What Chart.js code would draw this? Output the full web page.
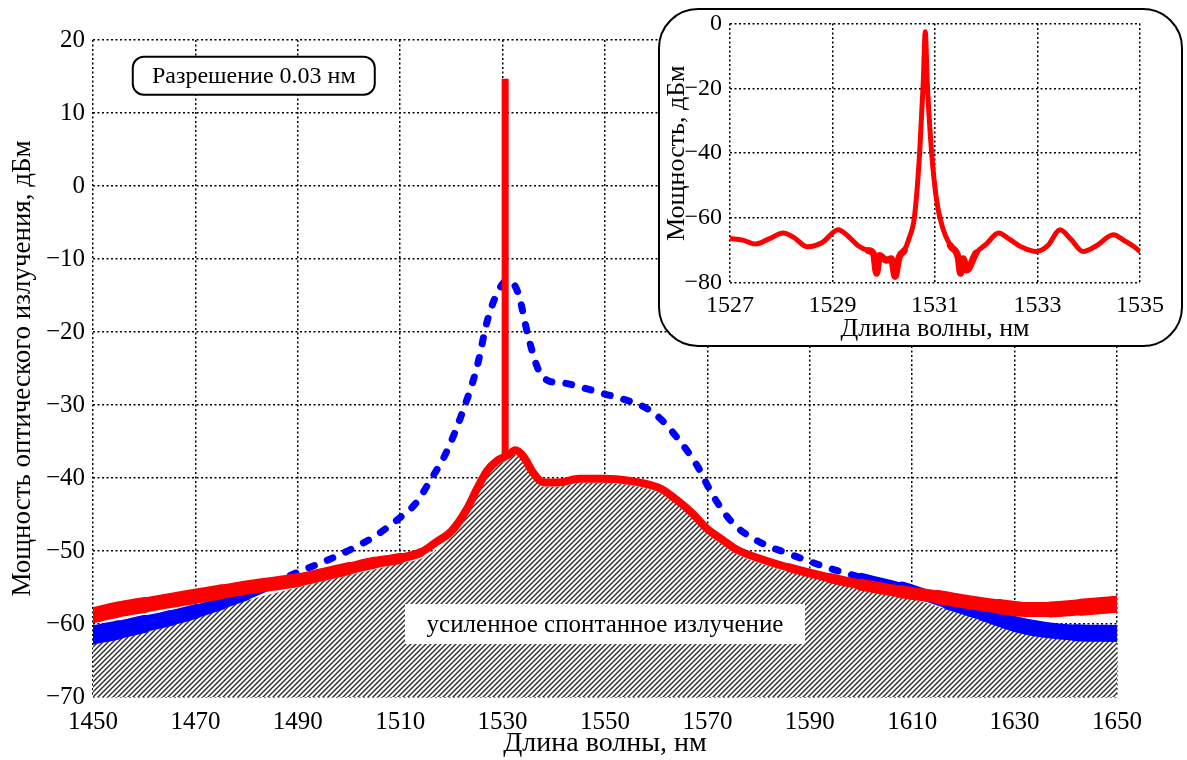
<!DOCTYPE html>
<html>
<head>
<meta charset="utf-8">
<title>Спектр излучения</title>
<script src="https://cdn.jsdelivr.net/npm/chart.js"></script>
<style>
  body { margin: 0; background: #fff; }
  #wrap { position: relative; width: 1187px; height: 760px; }
  #mainChart { display: block; }
  #inset { position: absolute; left: 658px; top: 8px; width: 525px; height: 339px;
           box-sizing: border-box; border: 2px solid #000; border-radius: 40px; background: #fff; }
  #insetChart { position: absolute; left: 0; top: -9px; display: block; }
</style>
</head>
<body>
<div id="wrap">
  <canvas id="mainChart" width="1187" height="760"></canvas>
  <div id="inset"><canvas id="insetChart" width="521" height="344"></canvas></div>
</div>
<script>
// --- данные основного графика ---
const xTicks = [1450, 1470, 1490, 1510, 1530, 1550, 1570, 1590, 1610, 1630, 1650];
const yTicks = [-70, -60, -50, -40, -30, -20, -10, 0, 10, 20];

// синяя штриховая кривая
const blueWl = [1450, 1455, 1460, 1465, 1470, 1475, 1480, 1485, 1490, 1495, 1500, 1505, 1510, 1513,
                1516, 1519, 1522, 1525, 1527, 1529, 1531, 1533, 1535, 1537, 1539, 1542, 1546, 1550,
                1554, 1558, 1561, 1564, 1568, 1571, 1575, 1580, 1586, 1594, 1600, 1608, 1617, 1624,
                1630, 1636, 1642, 1650];
const blueDb = [-61.5, -60.8, -60.0, -59.2, -58.3, -57.2, -56.0, -54.5, -52.9, -51.5, -49.9, -48.0, -45.4, -43.5,
                -40.2, -36.5, -31.3, -24.8, -18.5, -14.6, -12.9, -14.6, -20.6, -25.2, -26.7, -27.0, -27.7, -28.5,
                -29.3, -30.4, -32.0, -34.4, -38.3, -42.3, -46.2, -48.7, -50.4, -52.4, -53.6, -55.0, -57.1, -58.6,
                -60.0, -60.8, -61.2, -61.3];

// красная кривая (усиленное спонтанное излучение)
const redWl = [1450, 1455, 1460, 1465, 1470, 1475, 1480, 1485, 1490, 1495, 1500, 1505, 1510, 1514,
               1517, 1520, 1523, 1525, 1527, 1529, 1531, 1532.5, 1534, 1536, 1538, 1541, 1545, 1550,
               1555, 1558, 1561, 1564, 1567, 1570, 1573, 1576, 1580, 1586, 1594, 1600, 1608, 1615,
               1621, 1627, 1632, 1637, 1643, 1650];
const redDb = [-58.8, -58.0, -57.4, -56.8, -56.2, -55.6, -55.0, -54.5, -54.0, -53.2, -52.4, -51.6, -51.0, -50.2,
               -48.8, -47.3, -44.3, -41.5, -39.0, -37.6, -36.9, -36.2, -37.0, -39.3, -40.6, -40.6, -40.1, -40.1,
               -40.4, -40.8, -41.5, -43.0, -44.8, -47.0, -48.5, -49.9, -51.0, -52.3, -53.7, -54.6, -55.6, -56.3,
               -57.0, -57.6, -58.0, -58.0, -57.7, -57.3];

// линия генерации
const laserWl = [1530.5, 1530.5];
const laserDb = [-37.0, 14.7];

// заштрихованная область
const hatchWl = [1450, 1460, 1470, 1480, 1490, 1500, 1510, 1515, 1520, 1523, 1525, 1527, 1529, 1531,
                 1532.5, 1534, 1536, 1538, 1541, 1545, 1550, 1555, 1558, 1561, 1564, 1567, 1570, 1573,
                 1576, 1580, 1586, 1594, 1600, 1608, 1615, 1621, 1627, 1632, 1637, 1643, 1650];
const hatchDb = [-62.8, -61.2, -59.1, -56.8, -55.0, -53.3, -51.7, -50.8, -47.9, -44.9, -42.1, -39.6, -38.2, -37.5,
                 -36.8, -37.6, -39.9, -41.2, -41.2, -40.7, -40.7, -41.0, -41.4, -42.1, -43.6, -45.4, -47.6, -49.1,
                 -50.5, -51.6, -52.9, -54.3, -55.2, -56.2, -57.6, -58.9, -60.3, -61.2, -61.8, -62.2, -62.3];

// --- данные вставки ---
const insetXTicks = [1527, 1529, 1531, 1533, 1535];
const insetYTicks = [-80, -60, -40, -20, 0];
const insetWl = [1527.0, 1527.25, 1527.5, 1527.75, 1528.04, 1528.25, 1528.5, 1528.8, 1529.11, 1529.3, 1529.5,
                 1529.7, 1529.8, 1529.86, 1529.92, 1530.05, 1530.15, 1530.22, 1530.3, 1530.4, 1530.5, 1530.6,
                 1530.7, 1530.77, 1530.81, 1530.85, 1530.93, 1531.03, 1531.15, 1531.3, 1531.45, 1531.5, 1531.55,
                 1531.62, 1531.8, 1532.0, 1532.24, 1532.45, 1532.7, 1532.98, 1533.2, 1533.44, 1533.65, 1533.89,
                 1534.15, 1534.48, 1534.7, 1534.9, 1535.0];
const insetDb = [-66.3, -66.8, -68.0, -66.5, -64.6, -66.0, -68.8, -67.5, -63.6, -65.5, -68.5,
                 -70.0, -71.0, -77.0, -71.5, -73.0, -72.5, -78.0, -72.0, -70.0, -66.0, -59.5,
                 -40.0, -18.5, -2.6, -18.5, -39.0, -54.4, -63.0, -68.5, -72.0, -77.0, -72.5,
                 -76.0, -70.8, -68.0, -64.6, -66.5, -69.0, -70.3, -68.5, -63.6, -66.5, -70.3,
                 -68.5, -65.1, -67.0, -69.0, -70.3];

const resolutionText = 'Разрешение 0.03 нм';
const aseText = 'усиленное спонтанное излучение';

Chart.defaults.font.family = '"Liberation Serif", "Times New Roman", serif';
Chart.defaults.color = '#000';

const pts = (xs, ys) => xs.map((x, i) => ({x: x, y: ys[i]}));
const minus = v => (v < 0 ? '\u2212' + Math.abs(v) : String(v));

// штриховка
const tile = document.createElement('canvas');
tile.width = 5; tile.height = 5;
const t = tile.getContext('2d');
t.fillStyle = '#fff'; t.fillRect(0, 0, 5, 5);
t.strokeStyle = '#2a2a2a'; t.lineWidth = 1.4;
t.beginPath();
t.moveTo(0, 5); t.lineTo(5, 0);
t.moveTo(-1, 1); t.lineTo(1, -1);
t.moveTo(4, 6); t.lineTo(6, 4);
t.stroke();
const hatch = document.getElementById('mainChart').getContext('2d').createPattern(tile, 'repeat');

function gridScale(min, max, ticks, fit, titleText, titleSize, titlePad, tickSize, tickPad) {
    return {
        type: 'linear', min: min, max: max,
        afterBuildTicks: s => { s.ticks = ticks.map(v => ({value: v})); },
        afterFit: fit,
        ticks: { font: {size: tickSize}, padding: tickPad, callback: minus, autoSkip: false, maxRotation: 0 },
        grid: { color: '#000', lineWidth: 1.5, drawTicks: false },
        border: { display: false, dash: [2, 2.5] },
        title: { display: true, text: titleText, font: {size: titleSize}, padding: {top: titlePad, bottom: 0} }
    };
}

// подписи в рамках
const labelsPlugin = {
    id: 'labels',
    afterDatasetsDraw(chart) {
        const {ctx, scales: {x, y}} = chart;
        ctx.save();
        ctx.textAlign = 'center';
        ctx.textBaseline = 'middle';

        let cx = x.getPixelForValue(1481.4), cy = y.getPixelForValue(15.1);
        ctx.beginPath();
        ctx.roundRect(cx - 121, cy - 19, 242, 38, 11);
        ctx.fillStyle = '#fff'; ctx.fill();
        ctx.lineWidth = 2; ctx.strokeStyle = '#000'; ctx.stroke();
        ctx.fillStyle = '#000';
        ctx.font = '24px "Liberation Serif"';
        ctx.fillText(resolutionText, cx, cy + 1);

        cx = x.getPixelForValue(1550); cy = y.getPixelForValue(-60);
        ctx.fillStyle = '#fff';
        ctx.fillRect(cx - 200, cy - 20, 400, 40);
        ctx.fillStyle = '#000';
        ctx.font = '25px "Liberation Serif"';
        ctx.fillText(aseText, cx, cy + 1);
        ctx.restore();
    }
};

// толщина линии (шумовая полоса) по длине волны
function ramp(stops, x) {
    if (x <= stops[0][0]) return stops[0][1];
    for (let i = 1; i < stops.length; i++) {
        if (x <= stops[i][0]) {
            const [x0, w0] = stops[i - 1], [x1, w1] = stops[i];
            return w0 + (w1 - w0) * (x - x0) / (x1 - x0);
        }
    }
    return stops[stops.length - 1][1];
}
const redStops = [[1450, 16], [1500, 13], [1515, 8], [1585, 8], [1610, 13], [1650, 17]];
const blueStops = [[1450, 20], [1470, 14], [1487, 8], [1600, 8], [1615, 13], [1650, 18]];
const midX = c => (c.p0.parsed.x + c.p1.parsed.x) / 2;
const blueDashed = x => x >= 1487 && x < 1600;

new Chart(document.getElementById('mainChart'), {
    type: 'scatter',
    data: {
        datasets: [
            { data: pts(laserWl, laserDb), showLine: true, borderColor: '#ff0000', borderWidth: 7,
              pointRadius: 0, order: 0 },
            { data: pts(redWl, redDb), showLine: true, borderColor: '#ff0000', borderWidth: 7,
              borderCapStyle: 'round', borderJoinStyle: 'round',
              pointRadius: 0, cubicInterpolationMode: 'monotone', order: 1,
              segment: { borderWidth: c => Math.round(ramp(redStops, midX(c))) } },
            { data: pts(blueWl, blueDb), showLine: true, borderColor: '#0000ff', borderWidth: 7,
              borderCapStyle: 'round', borderJoinStyle: 'round',
              pointRadius: 0, cubicInterpolationMode: 'monotone', order: 2,
              segment: {
                  borderWidth: c => (blueDashed(midX(c)) ? 7 : Math.round(ramp(blueStops, midX(c)))),
                  borderDash: c => (blueDashed(midX(c)) ? [6, 14] : [])
              } },
            { data: pts(hatchWl, hatchDb), showLine: true, borderWidth: 0, borderColor: 'rgba(0,0,0,0)',
              backgroundColor: hatch, fill: 'start', pointRadius: 0, cubicInterpolationMode: 'monotone', order: 3 }
        ]
    },
    options: {
        responsive: false,
        animation: false,
        layout: { padding: {top: 40, right: 70, left: 0, bottom: 0} },
        plugins: { legend: {display: false}, tooltip: {enabled: false} },
        scales: {
            x: gridScale(1450, 1650, xTicks, s => { s.height = 63; }, 'Длина волны, нм', 28, 0, 25, 10),
            y: gridScale(-70, 20, yTicks, s => { s.width = 93; }, 'Мощность оптического излучения, дБм', 27, 7, 25, 8)
        }
    },
    plugins: [labelsPlugin]
});

const insetNoisy = x => (x > 1529.6 && x < 1530.45) || (x > 1531.3 && x < 1531.75);

new Chart(document.getElementById('insetChart'), {
    type: 'scatter',
    data: {
        datasets: [
            { data: pts(insetWl, insetDb), showLine: true, borderColor: '#ff0000', borderWidth: 5,
              borderCapStyle: 'round', borderJoinStyle: 'round',
              pointRadius: 0, cubicInterpolationMode: 'monotone',
              segment: { borderWidth: c => (insetNoisy(midX(c)) ? 7 : 5) } }
        ]
    },
    options: {
        responsive: false,
        animation: false,
        layout: { padding: {top: 13, right: 41, left: 0, bottom: 0} },
        plugins: { legend: {display: false}, tooltip: {enabled: false} },
        scales: {
            x: gridScale(1527, 1535, insetXTicks, s => { s.height = 62; }, 'Длина волны, нм', 26, 1, 24, 8),
            y: gridScale(-80, 0, insetYTicks, s => { s.width = 70; }, 'Мощность, дБм', 26, 2, 24, 8)
        }
    }
});
</script>
</body>
</html>
